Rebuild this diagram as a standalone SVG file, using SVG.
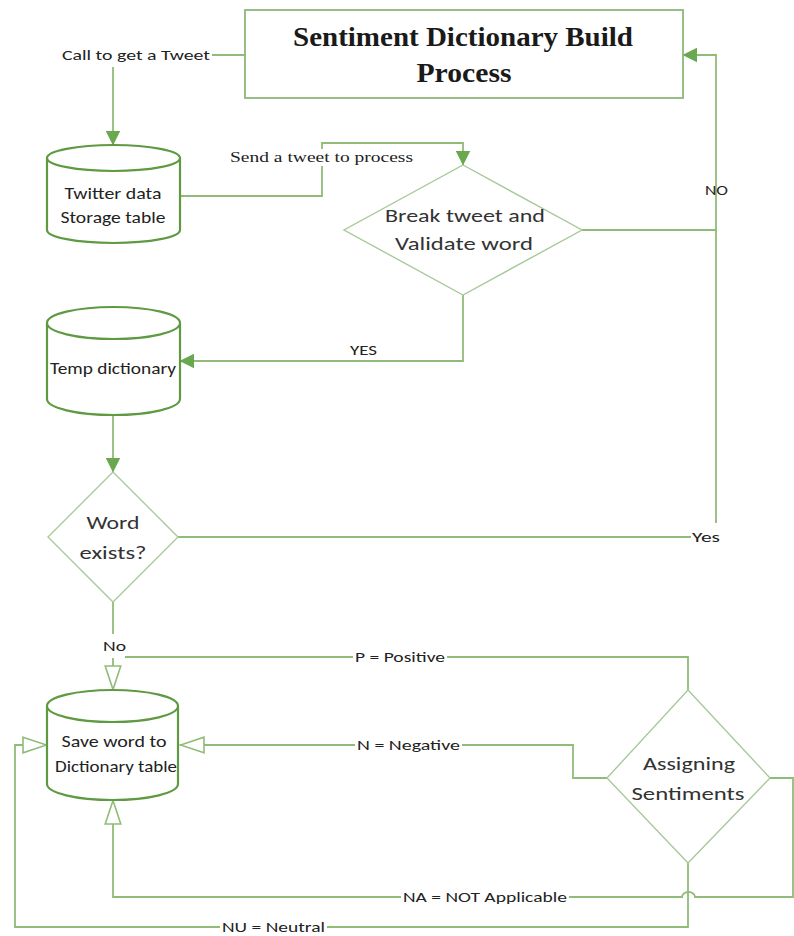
<svg xmlns="http://www.w3.org/2000/svg" width="794" height="936" viewBox="0 0 794 936">
  <style>
    .bg { fill: #ffffff; }
    .line { fill: none; stroke: #8fbc78; stroke-width: 1.8; }
    .cyl { fill: #ffffff; stroke: #5f9a42; stroke-width: 2.2; }
    .dia { fill: #ffffff; stroke: #a8c99a; stroke-width: 1.4; }
    .box { fill: #ffffff; stroke: #8db77a; stroke-width: 1.8; }
    .lbl { font-family: Carlito, Lato, "Liberation Sans", sans-serif; font-size: 15px; fill: #222222; dominant-baseline: central; }
    .node { font-family: Carlito, Lato, "Liberation Sans", sans-serif; font-size: 18.5px; fill: #333333; dominant-baseline: central; text-anchor: middle; }
    .cylt { font-family: Carlito, Lato, "Liberation Sans", sans-serif; font-size: 15.5px; fill: #222222; dominant-baseline: central; text-anchor: middle; }
    .title { font-family: "Liberation Serif", "Times New Roman", serif; font-weight: bold; font-size: 27px; fill: #1a1a1a; dominant-baseline: central; text-anchor: middle; }
    .serif { font-family: "Liberation Serif", "Times New Roman", serif; font-size: 15px; fill: #222222; dominant-baseline: central; }
  </style>
  <defs>
    <marker id="solid" viewBox="0 0 14 14" markerWidth="15" markerHeight="15" refX="13.5" refY="7" orient="auto" markerUnits="userSpaceOnUse">
      <path d="M0,0 L14,7 L0,14 z" fill="#6aa84f"/>
    </marker>
    <marker id="hollow" viewBox="0 0 26 18" markerWidth="26" markerHeight="18" refX="25" refY="9" orient="auto" markerUnits="userSpaceOnUse">
      <path d="M1,1.2 L24.5,9 L1,16.8 z" fill="#ffffff" stroke="#8fbc78" stroke-width="1.6"/>
    </marker>
  </defs>

  <rect class="bg" x="0" y="0" width="794" height="936"/>

  <!-- connectors -->
  <g id="connectors">
    <!-- title box to tweet storage -->
    <path class="line" d="M245,55 H212"/>
    <path class="line" d="M113,67 V145" marker-end="url(#solid)"/>
    <!-- storage to break/validate -->
    <path class="line" d="M180,196 H322 V143 H463 V165" marker-end="url(#solid)"/>
    <!-- validate: YES to temp dictionary -->
    <path class="line" d="M463,295 V361 H180" marker-end="url(#solid)"/>
    <!-- validate: NO back to title box -->
    <path class="line" d="M582,230 H716 V55 H683" marker-end="url(#solid)"/>
    <!-- temp dictionary to word exists -->
    <path class="line" d="M113,415 V472" marker-end="url(#solid)"/>
    <!-- word exists: Yes back up -->
    <path class="line" d="M178,537 H691"/>
    <path class="line" d="M716,523 V230"/>
    <!-- word exists: No to save -->
    <path class="line" d="M113,602 V634"/>
    <path class="line" d="M113,658 V690" marker-end="url(#hollow)"/>
    <!-- P = Positive -->
    <path class="line" d="M688,690 V657 H447"/>
    <path class="line" d="M353,657 H125"/>
    <!-- N = Negative -->
    <path class="line" d="M607,778 H573 V745 H462"/>
    <path class="line" d="M355,745 H180" marker-end="url(#hollow)"/>
    <!-- NA = NOT Applicable (hops over the neutral line) -->
    <path class="line" d="M770,778 H793 V897 H695 A6.5,5 0 0 0 682,897 H569"/>
    <path class="line" d="M401,897 H113 V800" marker-end="url(#hollow)"/>
    <!-- NU = Neutral -->
    <path class="line" d="M688,863 V927 H327"/>
    <path class="line" d="M220,927 H15 V745 H47" marker-end="url(#hollow)"/>
  </g>

  <!-- connector labels -->
  <g id="labels">
    <text class="lbl" x="62" y="55" textLength="148" lengthAdjust="spacingAndGlyphs">Call to get a Tweet</text>
    <rect x="229" y="149" width="186" height="17" fill="#ffffff"/>
    <text class="serif" x="230" y="157" textLength="183" lengthAdjust="spacingAndGlyphs">Send a tweet to process</text>
    <text class="lbl" x="705" y="190" textLength="23" lengthAdjust="spacingAndGlyphs">NO</text>
    <text class="lbl" x="350" y="350" textLength="27" lengthAdjust="spacingAndGlyphs">YES</text>
    <text class="lbl" x="692" y="537" textLength="28" lengthAdjust="spacingAndGlyphs">Yes</text>
    <text class="lbl" x="103" y="646" textLength="23" lengthAdjust="spacingAndGlyphs">No</text>
    <text class="lbl" x="355" y="657" textLength="90" lengthAdjust="spacingAndGlyphs">P = Positive</text>
    <text class="lbl" x="357" y="745" textLength="103" lengthAdjust="spacingAndGlyphs">N = Negative</text>
    <text class="lbl" x="403" y="897" textLength="164" lengthAdjust="spacingAndGlyphs">NA = NOT Applicable</text>
    <text class="lbl" x="222" y="927" textLength="103" lengthAdjust="spacingAndGlyphs">NU = Neutral</text>
  </g>

  <!-- title box -->
  <g id="title">
    <rect class="box" x="245" y="10" width="438" height="88"/>
    <text class="title" x="463" y="37" textLength="340" lengthAdjust="spacingAndGlyphs">Sentiment Dictionary Build</text>
    <text class="title" x="464" y="73" textLength="95" lengthAdjust="spacingAndGlyphs">Process</text>
  </g>

  <!-- tweet storage cylinder -->
  <g id="twitter-storage">
    <path class="cyl" d="M47,158 V230 A66.5,13 0 0 0 180,230 V158"/>
    <ellipse class="cyl" cx="113.5" cy="158" rx="66.5" ry="13"/>
    <text class="cylt" x="113" y="193" textLength="97" lengthAdjust="spacingAndGlyphs">Twitter data</text>
    <text class="cylt" x="113" y="217" textLength="105" lengthAdjust="spacingAndGlyphs">Storage table</text>
  </g>

  <!-- break tweet decision -->
  <g id="break-validate">
    <polygon class="dia" points="463,165 582,230 463,295 344,230"/>
    <text class="node" x="465" y="215" textLength="160" lengthAdjust="spacingAndGlyphs">Break tweet and</text>
    <text class="node" x="464" y="243" textLength="138" lengthAdjust="spacingAndGlyphs">Validate word</text>
  </g>

  <!-- temp dictionary cylinder -->
  <g id="temp-dictionary">
    <path class="cyl" d="M47,323 V399 A66.5,16 0 0 0 180,399 V323"/>
    <ellipse class="cyl" cx="113.5" cy="323" rx="66.5" ry="16"/>
    <text class="cylt" x="113" y="368" font-size="14.5" textLength="126" lengthAdjust="spacingAndGlyphs">Temp dictionary</text>
  </g>

  <!-- word exists decision -->
  <g id="word-exists">
    <polygon class="dia" points="113,472 178,537 113,602 48,537"/>
    <text class="node" x="113" y="522" textLength="53" lengthAdjust="spacingAndGlyphs">Word</text>
    <text class="node" x="113" y="552" textLength="67" lengthAdjust="spacingAndGlyphs">exists?</text>
  </g>

  <!-- save word cylinder -->
  <g id="save-word">
    <path class="cyl" d="M47,706 V784 A65.5,16 0 0 0 178,784 V706"/>
    <ellipse class="cyl" cx="112.5" cy="706" rx="65.5" ry="16"/>
    <text class="cylt" x="114" y="741" textLength="105" lengthAdjust="spacingAndGlyphs">Save word to</text>
    <text class="cylt" x="116" y="766" textLength="122" lengthAdjust="spacingAndGlyphs">Dictionary table</text>
  </g>

  <!-- assigning sentiments decision -->
  <g id="assigning-sentiments">
    <polygon class="dia" points="688,690 770,778 688,863 607,778"/>
    <text class="node" x="689" y="763" textLength="92" lengthAdjust="spacingAndGlyphs">Assigning</text>
    <text class="node" x="688" y="793" textLength="113" lengthAdjust="spacingAndGlyphs">Sentiments</text>
  </g>
</svg>
